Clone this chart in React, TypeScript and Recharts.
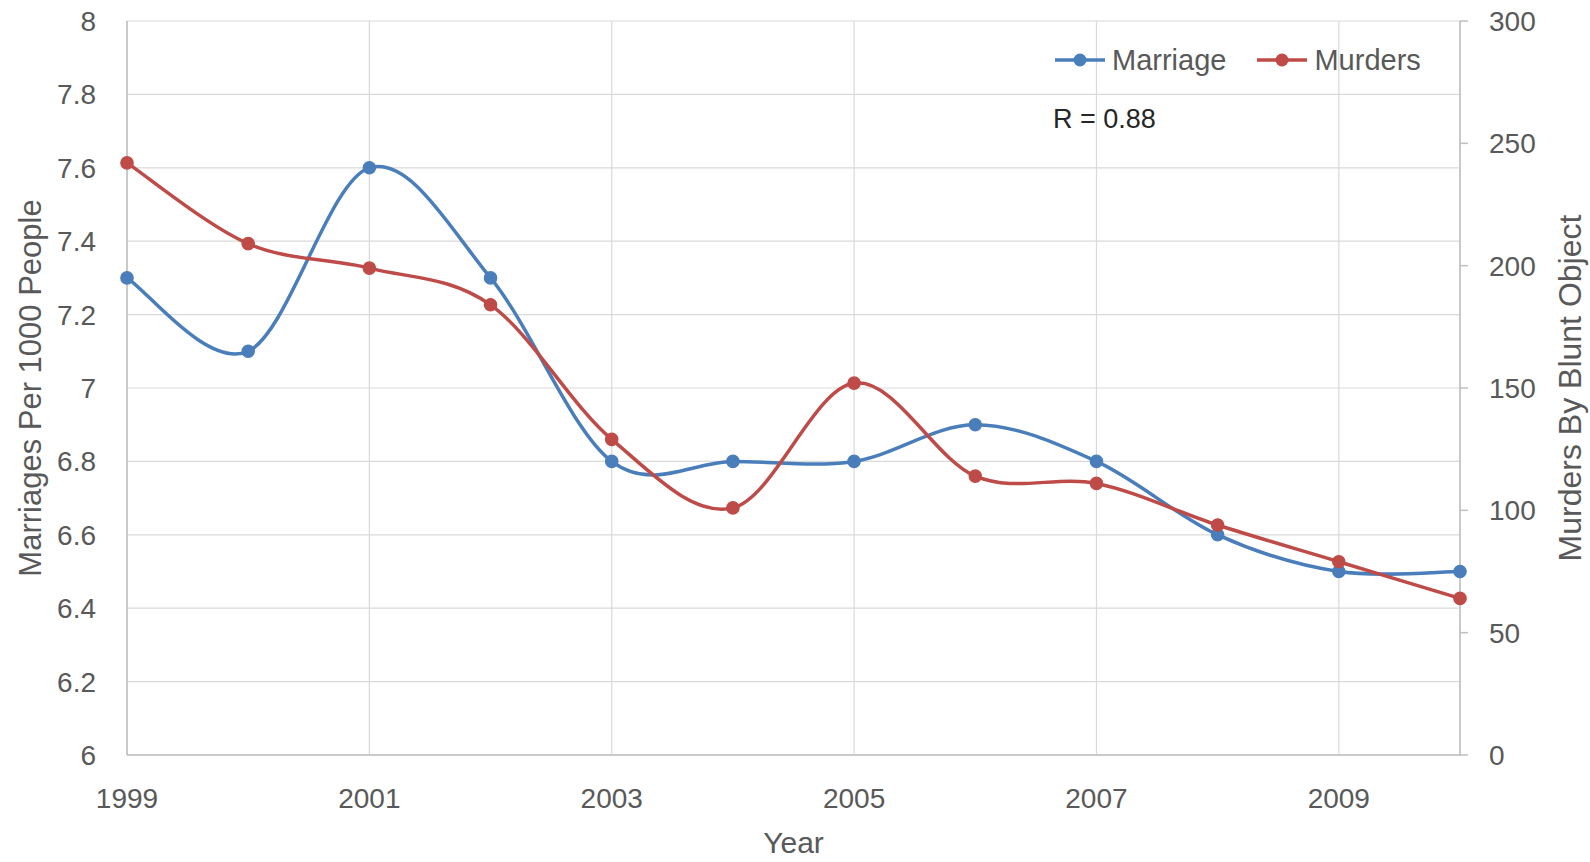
import React from 'react';
import { LineChart, Line, XAxis, YAxis, CartesianGrid, Legend } from 'recharts';

const years = [1999, 2000, 2001, 2002, 2003, 2004, 2005, 2006, 2007, 2008, 2009, 2010];
const marriageRate = [7.3, 7.1, 7.6, 7.3, 6.8, 6.8, 6.8, 6.9, 6.8, 6.6, 6.5, 6.5];
const murdersBlunt = [242, 209, 199, 184, 129, 101, 152, 114, 111, 94, 79, 64];
const xTicks = [1999, 2001, 2003, 2005, 2007, 2009];
const leftTicks = [6, 6.2, 6.4, 6.6, 6.8, 7, 7.2, 7.4, 7.6, 7.8, 8];
const rightTicks = [0, 50, 100, 150, 200, 250, 300];
const seriesNames = ['Marriage', 'Murders'];
const correlationLabel = 'R = 0.88';

const data = years.map((year, i) => ({
  year,
  Marriage: marriageRate[i],
  Murders: murdersBlunt[i],
}));

const BLUE = '#4a7ebb';
const RED = '#be4b48';
const TEXT = '#595959';
const AXIS = '#bfbfbf';
const GRID = '#d9d9d9';
const FONT = '"Liberation Sans", Arial, sans-serif';

// Excel-like smoothed line (Catmull-Rom style Bezier segments)
const excelSmooth = (context: any) => {
  let px: number[] = [];
  let py: number[] = [];
  return {
    areaStart() {},
    areaEnd() {},
    lineStart() {
      px = [];
      py = [];
    },
    point(x: number, y: number) {
      px.push(+x);
      py.push(+y);
    },
    lineEnd() {
      const n = px.length;
      if (!n) return;
      context.moveTo(px[0], py[0]);
      for (let i = 0; i < n - 1; i++) {
        const i0 = Math.max(i - 1, 0);
        const i3 = Math.min(i + 2, n - 1);
        const c1x = px[i] + (px[i + 1] - px[i0]) / 6;
        const c1y = py[i] + (py[i + 1] - py[i0]) / 6;
        const c2x = px[i + 1] - (px[i3] - px[i]) / 6;
        const c2y = py[i + 1] - (py[i3] - py[i]) / 6;
        context.bezierCurveTo(c1x, c1y, c2x, c2y, px[i + 1], py[i + 1]);
      }
    },
  };
};

const tickStyle = { fill: TEXT, fontSize: 28, fontFamily: FONT };

const LeftTitle = (props: any) => {
  const vb = props.viewBox || { x: 0, y: 21, width: 127, height: 734 };
  const cx = vb.x + 30;
  const cy = vb.y + vb.height / 2;
  return (
    <text
      x={cx}
      y={cy}
      transform={`rotate(-90, ${cx}, ${cy})`}
      textAnchor="middle"
      dominantBaseline="central"
      fill={TEXT}
      fontSize={31}
      fontFamily={FONT}
    >
      Marriages Per 1000 People
    </text>
  );
};

const RightTitle = (props: any) => {
  const vb = props.viewBox || { x: 1460, y: 21, width: 130, height: 734 };
  const cx = vb.x + 110;
  const cy = vb.y + vb.height / 2;
  return (
    <text
      x={cx}
      y={cy}
      transform={`rotate(-90, ${cx}, ${cy})`}
      textAnchor="middle"
      dominantBaseline="central"
      fill={TEXT}
      fontSize={32}
      fontFamily={FONT}
    >
      Murders By Blunt Object
    </text>
  );
};

const BottomTitle = (props: any) => {
  const vb = props.viewBox || { x: 127, y: 755, width: 1333, height: 107 };
  return (
    <text x={vb.x + vb.width / 2} y={vb.y + 98} textAnchor="middle" fill={TEXT} fontSize={30} fontFamily={FONT}>
      Year
    </text>
  );
};

const renderLegend = (props: any) => {
  const payload = props.payload || [];
  return (
    <div style={{ display: 'flex', alignItems: 'center', fontFamily: FONT, fontSize: 29, color: TEXT, whiteSpace: 'nowrap' }}>
      {payload.map((entry: any, idx: number) => (
        <div key={entry.value} style={{ display: 'flex', alignItems: 'center', marginLeft: idx === 0 ? 0 : 31 }}>
          <svg width={50} height={20} style={{ display: 'block' }}>
            <line x1={0} y1={10} x2={50} y2={10} stroke={entry.color} strokeWidth={3.5} />
            <circle cx={25} cy={10} r={6.5} fill={entry.color} />
          </svg>
          <span style={{ marginLeft: 7, lineHeight: '34px' }}>{entry.value}</span>
        </div>
      ))}
    </div>
  );
};

export default function App() {
  return (
    <div style={{ position: 'absolute', left: 0, top: 0, width: 1590, height: 862, background: '#fff' }}>
      <LineChart width={1590} height={862} data={data} margin={{ top: 21, right: 0, bottom: 0, left: 0 }}>
        <CartesianGrid stroke={GRID} strokeWidth={1.2} yAxisId="left" />
        <XAxis
          dataKey="year"
          type="number"
          domain={[1999, 2010]}
          ticks={xTicks}
          interval={0}
          height={107}
          tickLine={false}
          tickSize={0}
          tickMargin={33}
          axisLine={{ stroke: AXIS, strokeWidth: 1.5 }}
          tick={tickStyle}
          label={BottomTitle}
        />
        <YAxis
          yAxisId="left"
          orientation="left"
          width={127}
          domain={[6, 8]}
          ticks={leftTicks}
          interval={0}
          tickLine={false}
          tickSize={0}
          tickMargin={31}
          axisLine={{ stroke: AXIS, strokeWidth: 1.5 }}
          tick={tickStyle}
          label={LeftTitle}
        />
        <YAxis
          yAxisId="right"
          orientation="right"
          width={130}
          domain={[0, 300]}
          ticks={rightTicks}
          interval={0}
          tickSize={8}
          tickMargin={21}
          tickLine={{ stroke: AXIS, strokeWidth: 1.5 }}
          axisLine={{ stroke: AXIS, strokeWidth: 1.5 }}
          tick={{ ...tickStyle, textAnchor: 'start' }}
          label={RightTitle}
        />
        <Legend
          content={renderLegend}
          wrapperStyle={{ position: 'absolute', left: 1055, top: 43, width: 0, height: 0, overflow: 'visible' }}
        />
        <Line
          yAxisId="left"
          dataKey={seriesNames[0]}
          name={seriesNames[0]}
          type={excelSmooth as any}
          stroke={BLUE}
          strokeWidth={3.5}
          dot={{ r: 6.2, fill: BLUE, stroke: BLUE, strokeWidth: 1.2 }}
          activeDot={false}
          isAnimationActive={false}
        />
        <Line
          yAxisId="right"
          dataKey={seriesNames[1]}
          name={seriesNames[1]}
          type={excelSmooth as any}
          stroke={RED}
          strokeWidth={3.5}
          dot={{ r: 6.2, fill: RED, stroke: RED, strokeWidth: 1.2 }}
          activeDot={false}
          isAnimationActive={false}
        />
      </LineChart>
      <div
        style={{
          position: 'absolute',
          left: 1053,
          top: 102,
          fontFamily: FONT,
          fontSize: 27,
          color: '#262626',
          lineHeight: '34px',
          whiteSpace: 'nowrap',
        }}
      >
        {correlationLabel}
      </div>
    </div>
  );
}
